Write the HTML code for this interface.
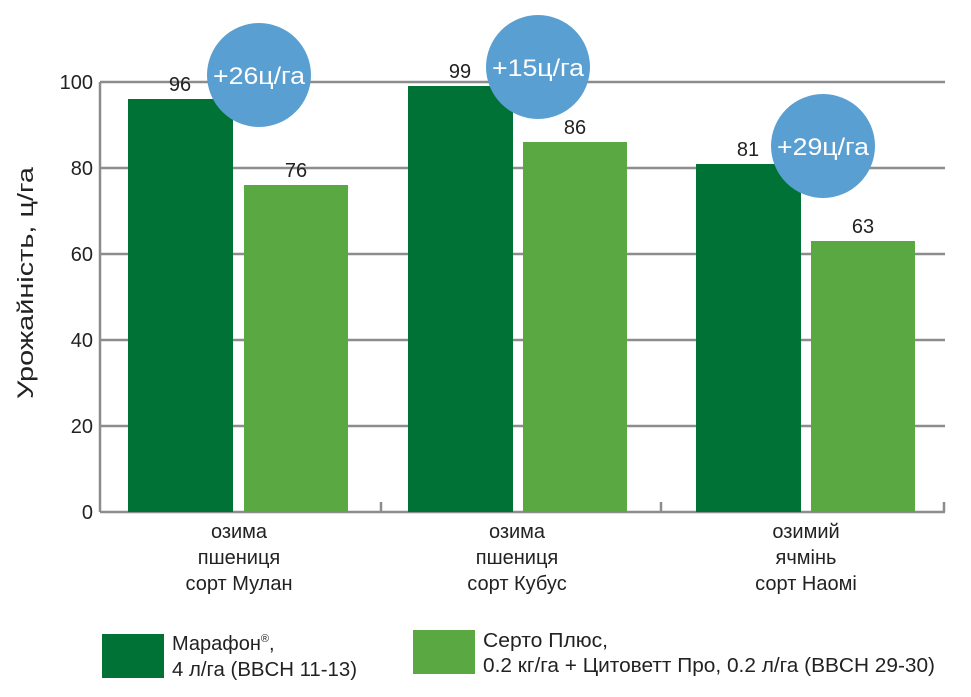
<!DOCTYPE html>
<html><head><meta charset="utf-8"><style>
body{margin:0;background:#fff}
svg text{font-family:"Liberation Sans",sans-serif}
</style></head><body>
<svg width="971" height="692" xmlns="http://www.w3.org/2000/svg">
<g stroke="#8c8c8c" stroke-width="2.5">
<line x1="100" y1="82" x2="945" y2="82"/>
<line x1="100" y1="168" x2="945" y2="168"/>
<line x1="100" y1="254" x2="945" y2="254"/>
<line x1="100" y1="340" x2="945" y2="340"/>
<line x1="100" y1="426" x2="945" y2="426"/>
<line x1="100" y1="512" x2="945" y2="512"/>
<line x1="100" y1="82" x2="100" y2="512"/>
<line x1="381" y1="502" x2="381" y2="512"/>
<line x1="661" y1="502" x2="661" y2="512"/>
<line x1="944" y1="502" x2="944" y2="512"/>
</g>
<g font-size="20" fill="#222" text-anchor="end">
<text x="93" y="89">100</text><text x="93" y="175">80</text><text x="93" y="261">60</text>
<text x="93" y="347">40</text><text x="93" y="433">20</text><text x="93" y="519">0</text>
</g>
<text transform="translate(33,283) rotate(-90)" font-size="22" fill="#222" text-anchor="middle" textLength="232" lengthAdjust="spacingAndGlyphs">Урожайність, ц/га</text>
<g fill="#007236">
<rect x="128" y="99" width="105" height="413"/>
<rect x="408" y="86" width="105" height="426"/>
<rect x="696" y="164" width="105" height="348"/>
</g>
<g fill="#5aa842">
<rect x="244" y="185" width="104" height="327"/>
<rect x="523" y="142" width="104" height="370"/>
<rect x="811" y="241" width="104" height="271"/>
</g>
<g font-size="20" fill="#222" text-anchor="middle">
<text x="180" y="91">96</text><text x="296" y="177">76</text>
<text x="460" y="78">99</text><text x="575" y="134">86</text>
<text x="748" y="156">81</text><text x="863" y="233">63</text>
</g>
<g fill="#5a9fd1">
<circle cx="259" cy="75" r="52"/><circle cx="538" cy="67" r="52"/><circle cx="823" cy="146" r="52"/>
</g>
<g font-size="24" fill="#fff" text-anchor="middle">
<text x="259" y="84" textLength="92" lengthAdjust="spacingAndGlyphs">+26ц/га</text>
<text x="538" y="76" textLength="92" lengthAdjust="spacingAndGlyphs">+15ц/га</text>
<text x="823" y="155" textLength="92" lengthAdjust="spacingAndGlyphs">+29ц/га</text>
</g>
<g font-size="20" fill="#222" text-anchor="middle">
<text x="239" y="538">озима</text><text x="239" y="564">пшениця</text><text x="239" y="590">сорт Мулан</text>
<text x="517" y="538">озима</text><text x="517" y="564">пшениця</text><text x="517" y="590">сорт Кубус</text>
<text x="806" y="538">озимий</text><text x="806" y="564">ячмінь</text><text x="806" y="590">сорт Наомі</text>
</g>
<rect x="102" y="634" width="62" height="44" fill="#007236"/>
<rect x="413" y="630" width="62" height="44" fill="#5aa842"/>
<g font-size="20" fill="#222">
<text x="172" y="650">Марафон<tspan font-size="11" dy="-8">®</tspan><tspan dy="8">,</tspan></text>
<text x="172" y="676" textLength="185" lengthAdjust="spacingAndGlyphs">4 л/га (BBCH 11-13)</text>
<text x="483" y="647" textLength="125" lengthAdjust="spacingAndGlyphs">Серто Плюс,</text>
<text x="483" y="672" textLength="452" lengthAdjust="spacingAndGlyphs">0.2 кг/га + Цитоветт Про, 0.2 л/га (BBCH 29-30)</text>
</g>
</svg>
</body></html>
